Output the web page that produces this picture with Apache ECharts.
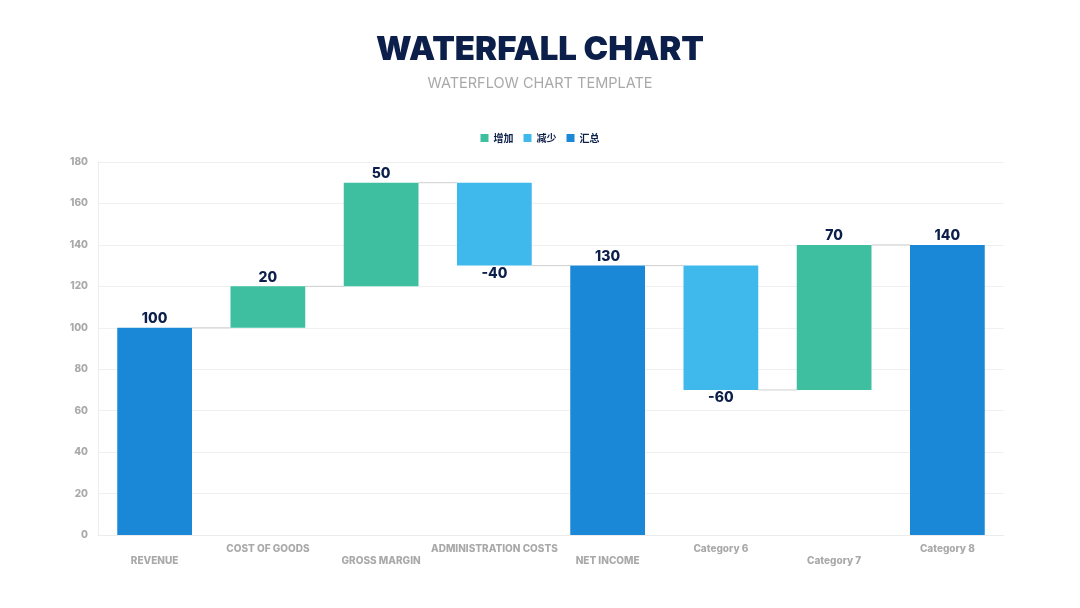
<!DOCTYPE html>
<html>
<head>
<meta charset="utf-8">
<script src="https://cdn.jsdelivr.net/npm/echarts@6/dist/echarts.min.js"></script>
<style>
  html, body { margin: 0; padding: 0; background: #fff; }
  #main { width: 1080px; height: 608px; }
</style>
</head>
<body>
<div id="main"></div>
<script>
// data //
var categories = ['REVENUE', 'COST OF GOODS', 'GROSS MARGIN', 'ADMINISTRATION COSTS', 'NET INCOME', 'Category 6', 'Category 7', 'Category 8'];
var changes = [100, 20, 50, -40, 130, -60, 70, 140];
var kinds = ['total', 'up', 'up', 'down', 'total', 'down', 'up', 'total'];
var legendNames = ['增加', '减少', '汇总'];
var yTicks = { min: 0, max: 180, interval: 20 };
// data end //

var navy = '#0c1f4a';
var green = '#3dbfa0';
var lightBlue = '#3fb8ec';
var blue = '#1a88d6';
var font = 'Inter';

var baseData = [];
var upData = [];
var downData = [];
var totalData = [];
var levels = [];
var level = 0;
for (var i = 0; i < changes.length; i++) {
    var v = changes[i];
    if (kinds[i] == 'total') {
        baseData.push(0);
        totalData.push(v);
        upData.push('-');
        downData.push('-');
        level = v;
    } else if (kinds[i] == 'up') {
        baseData.push(level);
        upData.push(v);
        downData.push('-');
        totalData.push('-');
        level = level + v;
    } else {
        level = level + v;
        baseData.push(level);
        downData.push(-v);
        upData.push('-');
        totalData.push('-');
    }
    levels.push(level);
}

var connectorData = [];
for (var j = 0; j < levels.length - 1; j++) {
    connectorData.push([j, levels[j]]);
}

var labelStyle = {
    show: true,
    color: navy,
    fontFamily: font,
    fontWeight: 800,
    fontSize: 14
};

var myChart = echarts.init(document.getElementById('main'));

var option = {
    backgroundColor: '#fff',
    title: {
        text: 'WATERFALL CHART',
        subtext: 'WATERFLOW CHART TEMPLATE',
        left: 'center',
        top: 29,
        itemGap: 9,
        textStyle: {
            color: navy,
            fontFamily: font,
            fontWeight: 900,
            fontSize: 33
        },
        subtextStyle: {
            color: '#a9a9a9',
            fontFamily: font,
            fontSize: 14.5
        }
    },
    legend: {
        data: legendNames,
        top: 128,
        left: 'center',
        itemWidth: 8,
        itemHeight: 8,
        itemGap: 10,
        icon: 'rect',
        textStyle: {
            color: navy,
            fontSize: 10,
            fontWeight: 'bold',
            fontFamily: 'Noto Sans CJK SC'
        }
    },
    grid: {
        left: 98,
        right: 76,
        top: 162,
        bottom: 73
    },
    xAxis: {
        type: 'category',
        data: categories,
        axisLine: { lineStyle: { color: '#ececec' } },
        axisTick: { show: false },
        axisLabel: {
            interval: 0,
            margin: 8,
            color: '#a9a9a9',
            fontFamily: font,
            fontWeight: 800,
            fontSize: 10,
            lineHeight: 12,
            formatter: function (value, index) {
                return index % 2 == 0 ? '\n' + value : value;
            }
        }
    },
    yAxis: {
        type: 'value',
        min: yTicks.min,
        max: yTicks.max,
        interval: yTicks.interval,
        axisLine: { show: true, lineStyle: { color: '#ececec' } },
        axisTick: { show: false },
        splitLine: { lineStyle: { color: '#f0f0f0' } },
        axisLabel: {
            margin: 10,
            color: '#a9a9a9',
            fontFamily: font,
            fontWeight: 800,
            fontSize: 10
        }
    },
    series: [
        {
            name: 'base',
            type: 'bar',
            stack: 'wf',
            barWidth: '66%',
            itemStyle: { color: 'transparent' },
            emphasis: { disabled: true },
            data: baseData
        },
        {
            name: legendNames[0],
            type: 'bar',
            stack: 'wf',
            barWidth: '66%',
            itemStyle: { color: green },
            label: Object.assign({ position: 'top', distance: 2 }, labelStyle),
            data: upData
        },
        {
            name: legendNames[1],
            type: 'bar',
            stack: 'wf',
            barWidth: '66%',
            itemStyle: { color: lightBlue },
            label: Object.assign({ position: 'bottom', distance: 1, formatter: '-{c}' }, labelStyle),
            data: downData
        },
        {
            name: legendNames[2],
            type: 'bar',
            stack: 'wf',
            barWidth: '66%',
            itemStyle: { color: blue },
            label: Object.assign({ position: 'top', distance: 2 }, labelStyle),
            data: totalData
        },
        {
            name: 'connector',
            type: 'custom',
            silent: true,
            z: 1,
            renderItem: function (params, api) {
                var p1 = api.coord([api.value(0), api.value(1)]);
                var p2 = api.coord([api.value(0) + 1, api.value(1)]);
                var half = api.size([1, 0])[0] * 0.33;
                return {
                    type: 'line',
                    shape: { x1: p1[0] + half, y1: p1[1], x2: p2[0] - half, y2: p2[1] },
                    style: { stroke: '#cfcfcf', lineWidth: 1 }
                };
            },
            data: connectorData
        }
    ]
};

myChart.setOption(option, true);
</script>
</body>
</html>
